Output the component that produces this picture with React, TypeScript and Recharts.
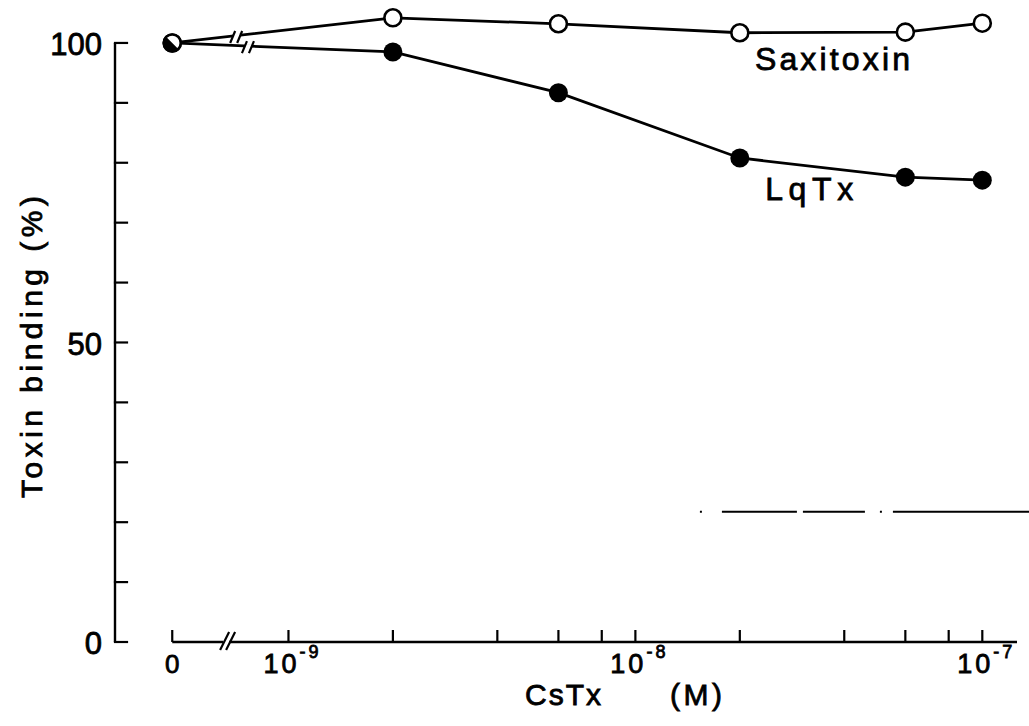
import React from "react";
import { LineChart, Line, XAxis, YAxis, ReferenceLine, ReferenceDot } from "recharts";

// ---- data ----
const CONCENTRATIONS = [0, 2e-9, 6e-9, 2e-8, 6e-8, 1e-7]; // CsTx (M)
const SAXITOXIN = [100, 104.2, 103.2, 101.7, 101.8, 103.3];
const LQTX = [100, 98.5, 91.7, 80.8, 77.6, 77.1];

const X_TICK_CONC = [0, 1e-9, 2e-9, 4e-9, 6e-9, 8e-9, 1e-8, 2e-8, 4e-8, 6e-8, 8e-8, 1e-7];
const X_TICK_LABELS: ({ base: string; exp?: string } | null)[] = [
  { base: "0" },
  { base: "10", exp: "-9" },
  null, null, null, null,
  { base: "10", exp: "-8" },
  null, null, null, null,
  { base: "10", exp: "-7" },
];
const Y_TICKS = [0, 10, 20, 30, 40, 50, 60, 70, 80, 90, 100];
const Y_TICK_LABELS = ["0", "", "", "", "", "50", "", "", "", "", "100"];

// ---- broken log axis layout ----
const ZERO_POS = -9.335; // position of "0" left of the axis break
const BREAK_POS = -9.174;
const X_MIN = -9.5;
const X_MAX = -6.9;
const Y_MIN = 0;
const Y_MAX = 105;

const toPos = (c: number) => (c === 0 ? ZERO_POS : Math.log10(c));
const rows = CONCENTRATIONS.map((c, i) => ({ x: toPos(c), sax: SAXITOXIN[i], lqtx: LQTX[i] }));
const X_TICKS = X_TICK_CONC.map(toPos);

const FONT = "'Liberation Sans', Arial, Helvetica, sans-serif";
const INK = "#000";
const TEXT_STROKE = 0.8;

const XTick = (props: any) => {
  const { x, y, index } = props;
  const lab = X_TICK_LABELS[index];
  return (
    <g>
      <line x1={x} x2={x} y1={y} y2={y - 12} stroke={INK} strokeWidth={2.2} />
      {lab &&
        (lab.exp ? (
          <text
            x={x + 4}
            y={y + 31}
            textAnchor="middle"
            fontFamily={FONT}
            fontSize={27}
            letterSpacing={3}
            fill={INK}
            stroke={INK}
            strokeWidth={TEXT_STROKE}
          >
            <tspan>{lab.base}</tspan>
            <tspan dy={-15} fontSize={18} letterSpacing={3}>
              {lab.exp}
            </tspan>
          </text>
        ) : (
          <text
            x={x}
            y={y + 31}
            textAnchor="middle"
            fontFamily={FONT}
            fontSize={26}
            fill={INK}
            stroke={INK}
            strokeWidth={TEXT_STROKE}
          >
            {lab.base}
          </text>
        ))}
    </g>
  );
};

const YTick = (props: any) => {
  const { x, y, index } = props;
  const lab = Y_TICK_LABELS[index];
  return (
    <g>
      <line x1={x} x2={x + 12} y1={y} y2={y} stroke={INK} strokeWidth={2.2} strokeLinecap="square" />
      {lab && (
        <text
          x={x - 13}
          y={y + 1}
          dy="0.36em"
          textAnchor="end"
          fontFamily={FONT}
          fontSize={31}
          fill={INK}
          stroke={INK}
          strokeWidth={TEXT_STROKE}
        >
          {lab}
        </text>
      )}
    </g>
  );
};

const XTitle = () => (
  <g fontFamily={FONT} fontSize={30} fill={INK} stroke={INK} strokeWidth={TEXT_STROKE}>
    <text x={563} y={705} textAnchor="middle" textLength={76} lengthAdjust="spacing">
      CsTx
    </text>
    <text x={696} y={705} textAnchor="middle" textLength={52} lengthAdjust="spacing">
      (M)
    </text>
  </g>
);

const YTitle = () => (
  <text
    x={42}
    y={347}
    transform="rotate(-90 42 347)"
    textAnchor="middle"
    textLength={302}
    lengthAdjust="spacing"
    fontFamily={FONT}
    fontSize={30}
    fill={INK}
    stroke={INK}
    strokeWidth={TEXT_STROKE}
  >
    Toxin binding (%)
  </text>
);

const OpenDot = (p: any) => (
  <circle key={`s-${p.index}`} cx={p.cx} cy={p.cy} r={8.5} fill="#fff" stroke={INK} strokeWidth={2.6} />
);

const FilledDot = (p: any) => {
  const { cx, cy, index } = p;
  if (index === 0) {
    const r = 8.5;
    const d = r * Math.SQRT1_2;
    return (
      <g key={`l-${index}`}>
        <circle cx={cx} cy={cy} r={r} fill="#fff" stroke={INK} strokeWidth={2.6} />
        <path d={`M ${cx - d} ${cy - d} A ${r} ${r} 0 0 0 ${cx + d} ${cy + d} Z`} fill={INK} />
      </g>
    );
  }
  return <circle key={`l-${index}`} cx={cx} cy={cy} r={9.5} fill={INK} />;
};

const AxisBreak = (p: any) => {
  const { cx, cy } = p;
  return (
    <g>
      <rect x={cx - 5} y={cy - 3} width={6} height={6} fill="#fff" />
      <line x1={cx - 8} y1={cy + 8} x2={cx + 1} y2={cy - 10} stroke={INK} strokeWidth={2.2} />
      <line x1={cx - 2} y1={cy + 8} x2={cx + 7} y2={cy - 10} stroke={INK} strokeWidth={2.2} />
    </g>
  );
};

const LineBreak = (p: any) => {
  const { cx, cy } = p;
  return (
    <g>
      <rect x={cx - 5} y={cy - 3} width={7} height={6} fill="#fff" />
      <line x1={cx - 8} y1={cy + 6} x2={cx - 3} y2={cy - 6} stroke={INK} strokeWidth={2.2} />
      <line x1={cx - 1} y1={cy + 6} x2={cx + 4} y2={cy - 6} stroke={INK} strokeWidth={2.2} />
    </g>
  );
};

const SeriesLabel = (text: string, len: number) => (p: any) => (
  <text
    x={p.cx}
    y={p.cy}
    textAnchor="middle"
    textLength={len}
    lengthAdjust="spacing"
    fontFamily={FONT}
    fontSize={32}
    fill={INK}
    stroke={INK}
    strokeWidth={TEXT_STROKE}
  >
    {text}
  </text>
);

export default function App() {
  return (
    <div style={{ position: "absolute", left: 0, top: 0, width: 1029, height: 726, background: "#fff" }}>
      <LineChart width={1029} height={726} data={rows} margin={{ top: 13, right: 12, bottom: 0, left: 0 }}>
        <XAxis
          type="number"
          dataKey="x"
          domain={[X_MIN, X_MAX]}
          ticks={X_TICKS}
          interval={0}
          axisLine={false}
          tickLine={false}
          tickSize={0}
          tickMargin={0}
          height={84}
          tick={<XTick />}
          label={<XTitle />}
        />
        <YAxis
          type="number"
          domain={[Y_MIN, Y_MAX]}
          ticks={Y_TICKS}
          interval={0}
          axisLine={false}
          tickLine={false}
          tickSize={0}
          tickMargin={0}
          width={115}
          tick={<YTick />}
          label={<YTitle />}
        />
        <ReferenceLine
          segment={[{ x: X_MIN, y: 0 }, { x: X_MIN, y: 100 }]}
          stroke={INK}
          strokeWidth={2.4}
          ifOverflow="visible"
        />
        <ReferenceLine
          segment={[{ x: ZERO_POS, y: 0 }, { x: X_MAX, y: 0 }]}
          stroke={INK}
          strokeWidth={2.4}
          ifOverflow="visible"
        />
        <ReferenceLine
          segment={[{ x: -7.814, y: 21.75 }, { x: -6.86, y: 21.75 }]}
          stroke={INK}
          strokeWidth={2}
          strokeDasharray="2 20 75 6 62 15 2 11 140"
          ifOverflow="visible"
        />
        <Line
          dataKey="sax"
          type="linear"
          stroke={INK}
          strokeWidth={2.8}
          dot={OpenDot}
          activeDot={false}
          isAnimationActive={false}
        />
        <Line
          dataKey="lqtx"
          type="linear"
          stroke={INK}
          strokeWidth={2.8}
          dot={FilledDot}
          activeDot={false}
          isAnimationActive={false}
        />
        <ReferenceDot x={BREAK_POS} y={0} ifOverflow="visible" shape={AxisBreak} zIndex={1000} />
        <ReferenceDot x={-9.145} y={101.0} ifOverflow="visible" shape={LineBreak} zIndex={1000} />
        <ReferenceDot x={-9.111} y={99.3} ifOverflow="visible" shape={LineBreak} zIndex={1000} />
        <ReferenceDot x={-7.432} y={95.5} ifOverflow="visible" shape={SeriesLabel("Saxitoxin", 155)} zIndex={1000} />
        <ReferenceDot x={-7.499} y={73.8} ifOverflow="visible" shape={SeriesLabel("LqTx", 88)} zIndex={1000} />
      </LineChart>
    </div>
  );
}
